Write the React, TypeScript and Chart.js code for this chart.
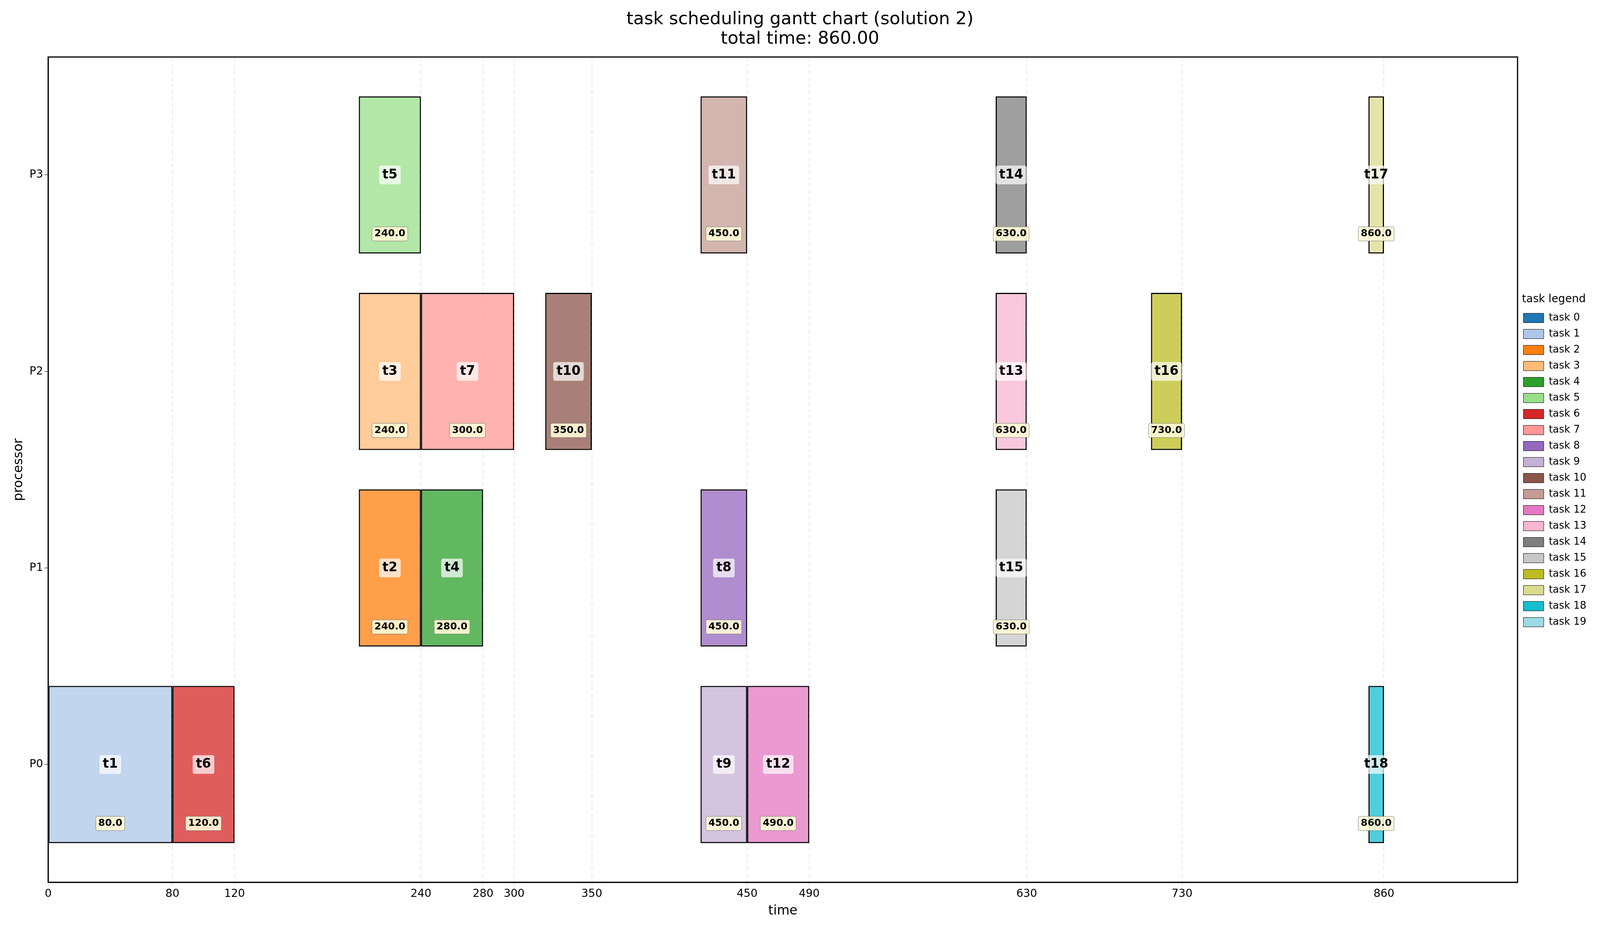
import { useRef, useEffect } from "react";
import Chart from "chart.js/auto";

const processors = ["P0", "P1", "P2", "P3"];
const taskIds = [1, 6, 2, 4, 8, 15, 3, 7, 10, 13, 16, 5, 11, 14, 17, 9, 12, 18];
const taskProc = [0, 0, 1, 1, 1, 1, 2, 2, 2, 2, 2, 3, 3, 3, 3, 0, 0, 0];
const taskStart = [0, 80, 200, 240, 420, 610, 200, 240, 320, 610, 710, 200, 420, 610, 850, 420, 450, 850];
const taskEnd = [80, 120, 240, 280, 450, 630, 240, 300, 350, 630, 730, 240, 450, 630, 860, 450, 490, 860];
const xTicks = [0, 80, 120, 240, 280, 300, 350, 450, 490, 630, 730, 860];
const legendCount = 20;

const tab20 = [
  "#1f77b4", "#aec7e8", "#ff7f0e", "#ffbb78", "#2ca02c", "#98df8a", "#d62728", "#ff9896",
  "#9467bd", "#c5b0d5", "#8c564b", "#c49c94", "#e377c2", "#f7b6d2", "#7f7f7f", "#c7c7c7",
  "#bcbd22", "#dbdb8d", "#17becf", "#9edae5",
];

const alpha = (hex: string, a: number) => {
  const n = parseInt(hex.slice(1), 16);
  return `rgba(${n >> 16},${(n >> 8) & 255},${n & 255},${a})`;
};

const FONT = "DejaVu Sans";
// sizes below are in screenshot pixels; convert to css px
const k = typeof window !== "undefined" ? window.innerWidth / 4763 : 1;
const px = (v: number) => Math.round(v * k);

const labelPlugin = {
  id: "taskLabels",
  afterDatasetsDraw(chart: any) {
    const { ctx, scales, chartArea } = chart;
    const x = scales.x, y = scales.y;
    ctx.save();
    const box = (text: string, cx: number, cy: number, font: number, bg: string, border: string | null) => {
      ctx.font = `bold ${font}px ${FONT}`;
      const w = ctx.measureText(text).width;
      const pad = font * 0.25;
      ctx.beginPath();
      ctx.roundRect(cx - w / 2 - pad, cy - font * 0.6 - pad * 0.5, w + pad * 2, font * 1.2 + pad, font * 0.15);
      ctx.fillStyle = bg;
      ctx.fill();
      if (border) { ctx.strokeStyle = border; ctx.lineWidth = 1; ctx.stroke(); }
      ctx.fillStyle = "#000";
      ctx.textAlign = "center";
      ctx.textBaseline = "middle";
      ctx.fillText(text, cx, cy);
    };
    taskIds.forEach((t, i) => {
      const cx = x.getPixelForValue((taskStart[i] + taskEnd[i]) / 2);
      box(`t${t}`, cx, y.getPixelForValue(taskProc[i]), px(38), "rgba(255,255,255,0.7)", null);
      box(taskEnd[i].toFixed(1), cx, y.getPixelForValue(taskProc[i] - 0.3), px(29), "rgba(255,250,215,0.9)", "#777");
    });
    ctx.strokeStyle = "#000";
    ctx.lineWidth = px(3);
    ctx.strokeRect(chartArea.left, chartArea.top, chartArea.right - chartArea.left, chartArea.bottom - chartArea.top);
    ctx.restore();
  },
};

export default function App() {
  const canvasRef = useRef<HTMLCanvasElement>(null);

  useEffect(() => {
    if (!canvasRef.current) return;
    const datasets: any[] = [];
    for (let d = 0; d < legendCount; d++) {
      const data = taskIds
        .map((t, i) => (t === d ? { x: [taskStart[i], taskEnd[i]], y: taskProc[i] } : null))
        .filter(Boolean);
      datasets.push({
        label: `task ${d}`,
        data,
        backgroundColor: alpha(tab20[d], 0.75),
        borderColor: "#000",
        borderWidth: Math.max(1, px(3)),
        borderSkipped: false,
        grouped: false,
        categoryPercentage: 1,
        barPercentage: 0.8,
      });
    }
    const chart = new Chart(canvasRef.current, {
      type: "bar",
      data: { datasets },
      plugins: [labelPlugin],
      options: {
        animation: false,
        responsive: true,
        maintainAspectRatio: false,
        indexAxis: "y",
        layout: { padding: { left: px(20), right: px(20), top: px(10), bottom: px(10) } },
        plugins: {
          title: {
            display: true,
            text: ["task scheduling gantt chart (solution 2)", "total time: 860.00"],
            color: "#000",
            font: { family: FONT, size: px(52), weight: "normal", lineHeight: 1.1 },
            padding: { top: px(10), bottom: px(25) },
          },
          tooltip: { enabled: false },
          legend: {
            position: "right",
            title: { display: true, text: "task legend", color: "#000", font: { family: FONT, size: px(32) } },
            labels: {
              color: "#000",
              font: { family: FONT, size: px(30) },
              boxWidth: px(60),
              boxHeight: px(28),
              padding: px(18),
              generateLabels: () =>
                tab20.map((c, d) => ({
                  text: `task ${d}`,
                  fillStyle: c,
                  strokeStyle: "#000",
                  lineWidth: 1,
                  datasetIndex: d,
                  hidden: false,
                })),
            },
          },
        },
        scales: {
          x: {
            type: "linear",
            min: 0,
            max: 946,
            afterBuildTicks: (s: any) => { s.ticks = xTicks.map((v) => ({ value: v })); },
            ticks: { color: "#000", font: { family: FONT, size: px(32) }, autoSkip: false, maxRotation: 0 },
            grid: { color: "rgba(0,0,0,0.2)", lineWidth: 1, tickLength: px(12) },
            border: { color: "#000", width: px(3), dash: [px(12), px(8)] },
            title: { display: true, text: "time", color: "#000", font: { family: FONT, size: px(38) } },
          },
          y: {
            type: "linear",
            min: -0.6,
            max: 3.6,
            offset: false,
            afterBuildTicks: (s: any) => { s.ticks = processors.map((_, i) => ({ value: i })); },
            ticks: { color: "#000", font: { family: FONT, size: px(32) }, callback: (v: any) => processors[v] },
            grid: { drawOnChartArea: false, offset: false, tickLength: px(12), color: "#000", lineWidth: 1 },
            border: { color: "#000", width: px(3) },
            title: { display: true, text: "processor", color: "#000", font: { family: FONT, size: px(38) } },
          },
        },
      },
    });
    return () => chart.destroy();
  }, []);

  return (
    <div style={{ width: "calc(100vw - 16px)", height: "calc(100vh - 16px)", position: "relative" }}>
      <canvas ref={canvasRef} />
    </div>
  );
}
